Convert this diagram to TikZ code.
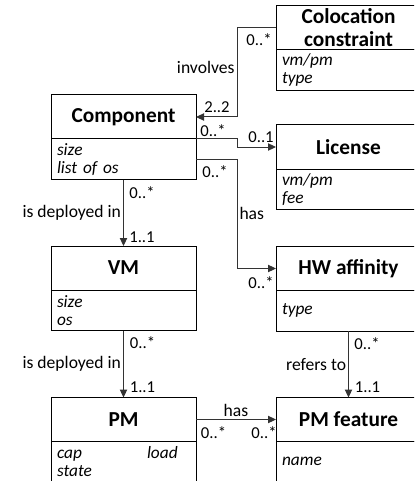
\documentclass[tikz,border=0pt]{standalone}
\usepackage{fontspec}
\setmainfont{Carlito}
\usetikzlibrary{positioning,arrows.meta}

\begin{document}
\begin{tikzpicture}[
  x=0.75pt, y=-0.75pt,
  cls/.style={draw, line width=0.75pt, outer sep=0pt, minimum width=108.75pt, minimum height=33pt, inner sep=0pt, align=center, font=\fontsize{16}{17.25}\selectfont\bfseries},
  attr/.style={draw, line width=0.75pt, outer sep=0pt, minimum height=30.5pt, inner xsep=4.5pt, inner ysep=0pt, text width=99.75pt, align=left, font=\fontsize{13}{13.5}\selectfont\itshape},
  lbl/.style={font=\fontsize{13.2}{14}\selectfont, inner sep=1.5pt},
  mult/.style={font=\fontsize{12.5}{13}\selectfont, inner sep=0pt},
  arr/.style={-{Triangle[length=6pt,width=5.5pt]}, line width=0.75pt, draw=black!80},
]
\useasboundingbox (0,0) rectangle (414,481);
\fill[white] (0,0) rectangle (414,481);
\clip (0,0) rectangle (414,481);
% left column
\node[cls] (comp) at (123.5,117) {Component};
\node[attr, below=0pt of comp] (compa) {size\\list of os};
\node[cls] (vm) at (123.5,268) {VM};
\node[attr, below=0pt of vm] (vma) {size\\os};
\node[cls] (pm) at (123.5,419.5) {PM};
\node[attr, below=0pt of pm] (pma) {\makebox[67.5pt][l]{cap}load\\state};
% right column
\node[cls] (coloc) at (348.5,28) {Colocation\\constraint};
\node[attr, below=0pt of coloc] (coloca) {vm/pm\\type};
\node[cls] (lic) at (348.5,147) {License};
\node[attr, below=0pt of lic] (lica) {vm/pm\\fee};
\node[cls] (hw) at (348.5,268.5) {HW affinity};
\node[attr, below=0pt of hw] (hwa) {type};
\node[cls] (feat) at (348.5,419.5) {PM feature};
\node[attr, below=0pt of feat] (feata) {name};
% associations
\coordinate (jx) at (237,0);
\draw[arr] (coloc.west) -| node[lbl, pos=0.72, left] {involves} (jx |- comp.east) -- (comp.east);
\node[mult] at ([shift={(-17,12)}]coloc.west) {0..*};
\node[mult] at ([shift={(21,-10)}]comp.east) {2..2};
\draw[arr] (comp.south east) -| (jx |- lic.west) -- (lic.west);
\node[mult] at ([shift={(17,-8)}]comp.south east) {0..*};
\node[mult] at ([shift={(-15,-10)}]lic.west) {0..1};
\draw[arr] (compa.east) -| node[lbl, pos=0.75, right] {has} (jx |- hw.west) -- (hw.west);
\node[mult] at ([shift={(19,12)}]compa.east) {0..*};
\node[mult] at ([shift={(-15,14)}]hw.west) {0..*};
\draw[arr] (compa.south) -- node[lbl, left] {is deployed in} (vm.north);
\node[mult] at ([shift={(18.5,13)}]compa.south) {0..*};
\node[mult] at ([shift={(18.5,-9)}]vm.north) {1..1};
\draw[arr] (vma.south) -- node[lbl, left] {is deployed in} (pm.north);
\node[mult] at ([shift={(19,12)}]vma.south) {0..*};
\node[mult] at ([shift={(19,-10)}]pm.north) {1..1};
\draw[arr] (hwa.south) -- node[lbl, left] {refers to} (feat.north);
\node[mult] at ([shift={(18.5,12)}]hwa.south) {0..*};
\node[mult] at ([shift={(19,-10)}]feat.north) {1..1};
\draw[arr] (pm.east) -- node[lbl, above] {has} (feat.west);
\node[mult] at ([shift={(17.5,13.5)}]pm.east) {0..*};
\node[mult] at ([shift={(-12,13.5)}]feat.west) {0..*};
\end{tikzpicture}
\end{document}
